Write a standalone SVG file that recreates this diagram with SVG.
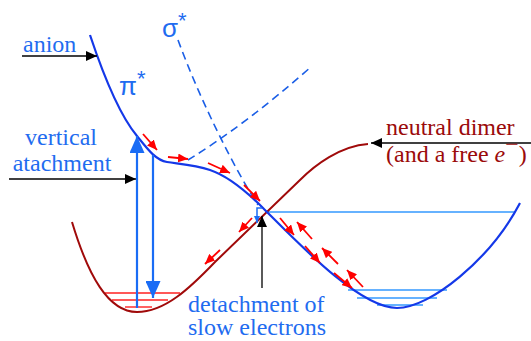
<svg xmlns="http://www.w3.org/2000/svg" width="531" height="341" viewBox="0 0 531 341">
<style>
.txt{font-family:'Liberation Serif','DejaVu Serif',serif;font-size:24px}
.blue{fill:#1f6cf0}
.dred{fill:#9b0a0a}
.anion{fill:none;stroke:#1438e8;stroke-width:2.2}
.neutral{fill:none;stroke:#a00a0a;stroke-width:2}
.dash{fill:none;stroke:#1a5ee6;stroke-width:1.6;stroke-dasharray:8 5}
.blk{stroke:#000;stroke-width:1.3;fill:none}
.red{stroke:#ff0000;stroke-width:1.8;fill:none}
.vert{stroke:#1a6cf5;stroke-width:2.2;fill:none}
.lvlb{stroke:#3399ff;stroke-width:1.6}
.lvlr{stroke:#ff2020;stroke-width:1.4}
</style>
<defs>
<marker id="hb" markerUnits="userSpaceOnUse" markerWidth="12" markerHeight="10" refX="11" refY="5" orient="auto"><path d="M0,0 L11,5 L0,10 Z" fill="#000"/></marker>
<marker id="hr" markerUnits="userSpaceOnUse" markerWidth="11" markerHeight="9" refX="10" refY="4.5" orient="auto"><path d="M0,0 L10,4.5 L0,9 Z" fill="#ff0000"/></marker>
<marker id="hv" markerUnits="userSpaceOnUse" markerWidth="18" markerHeight="15" refX="17" refY="7.5" orient="auto"><path d="M0,0 L17,7.5 L0,15 Z" fill="#1a6cf5"/></marker>
<marker id="hs" markerUnits="userSpaceOnUse" markerWidth="8" markerHeight="6" refX="7" refY="3" orient="auto"><path d="M0,0 L7,3 L0,6 Z" fill="#1a6cf5"/></marker>
</defs>

<g id="levels">
<line class="lvlr" x1="105" y1="293" x2="180" y2="293"/>
<line class="lvlr" x1="112" y1="300" x2="168" y2="300"/>
<line class="lvlr" x1="125" y1="307" x2="152" y2="307" stroke="#ff8080"/>
<line class="lvlb" x1="266" y1="212" x2="515" y2="212"/>
<line class="lvlb" x1="348" y1="290" x2="447" y2="290"/>
<line class="lvlb" x1="357" y1="298" x2="437" y2="298"/>
<line class="lvlb" x1="377" y1="305" x2="423" y2="305"/>
</g>

<g id="sigma-curve">
<path class="dash" d="M178,40 C200,100 235,170 258,205"/>
<path class="dash" d="M188,160 Q245,125 312,66"/>
</g>

<g id="neutral-curve">
<path class="neutral" d="M72,222 C88,275 108,312 137,312 C165,312 190,288 215,262 L300,180 C315,165 340,146 368,144"/>
</g>

<g id="anion-curve">
<path class="anion" d="M90,35 C100,65 117,112 137,136 C146,147 155,160 167,162 C180,164 195,165 210,170 C225,175 245,190 263,208 C300,245 360,308 397,308 C430,308 490,260 520,203"/>
</g>

<g id="connectors">
<line class="blk" x1="22" y1="56" x2="97" y2="56" marker-end="url(#hb)"/>
<line class="blk" x1="9" y1="179" x2="136" y2="179" marker-end="url(#hb)"/>
<line class="blk" x1="531" y1="143" x2="371" y2="143" marker-end="url(#hb)"/>
<line class="blk" x1="262" y1="288" x2="262" y2="216" marker-end="url(#hb)"/>
<line class="vert" x1="137" y1="308" x2="137" y2="136" marker-end="url(#hv)"/>
<line class="vert" x1="153" y1="155" x2="153" y2="298" marker-end="url(#hv)"/>
<path d="M262,208 L257,208 L257,223" fill="none" stroke="#1a6cf5" stroke-width="1.5" marker-end="url(#hs)"/>
</g>

<g id="red-arrows">
<line class="red" x1="143" y1="134" x2="157" y2="150" marker-end="url(#hr)"/>
<line class="red" x1="168" y1="157" x2="188" y2="159" marker-end="url(#hr)"/>
<line class="red" x1="208" y1="163" x2="230" y2="173" marker-end="url(#hr)"/>
<line class="red" x1="244" y1="185" x2="260" y2="201" marker-end="url(#hr)"/>
<line class="red" x1="252" y1="218" x2="239" y2="232" marker-end="url(#hr)"/>
<line class="red" x1="220" y1="250" x2="205" y2="264" marker-end="url(#hr)"/>
<line class="red" x1="280" y1="218" x2="294" y2="235" marker-end="url(#hr)"/>
<line class="red" x1="312" y1="239" x2="297" y2="222" marker-end="url(#hr)"/>
<line class="red" x1="305" y1="246" x2="320" y2="263" marker-end="url(#hr)"/>
<line class="red" x1="338" y1="264" x2="322" y2="248" marker-end="url(#hr)"/>
<line class="red" x1="334" y1="273" x2="352" y2="288" marker-end="url(#hr)"/>
<line class="red" x1="363" y1="287" x2="347" y2="270" marker-end="url(#hr)"/>
</g>

<g id="label-anion"><text class="txt blue" font-family="Liberation Serif, serif" font-size="24" x="23" y="52">anion</text></g>
<g id="label-pi"><text class="blue" x="119" y="95" font-family="Liberation Sans, Arial, sans-serif" font-size="26">π<tspan font-size="22" dy="-9">*</tspan></text></g>
<g id="label-sigma"><text class="blue" x="162" y="37" font-family="Liberation Sans, Arial, sans-serif" font-size="26">σ<tspan font-size="22" dy="-9">*</tspan></text></g>
<g id="label-vertical"><text class="txt blue" font-family="Liberation Serif, serif" font-size="24" text-anchor="middle"><tspan x="61" y="145">vertical</tspan><tspan x="62" y="171">atachment</tspan></text></g>
<g id="label-neutral"><text class="txt dred" font-family="Liberation Serif, serif" font-size="24"><tspan x="386" y="135">neutral dimer</tspan><tspan x="386" y="162">(and a free <tspan font-style="italic">e</tspan><tspan dy="-10">−</tspan><tspan dy="10">)</tspan></tspan></text></g>
<g id="label-detach"><text class="txt blue" font-family="Liberation Serif, serif" font-size="24"><tspan x="188" y="312">detachment of</tspan><tspan x="188" y="335">slow electrons</tspan></text></g>
</svg>
